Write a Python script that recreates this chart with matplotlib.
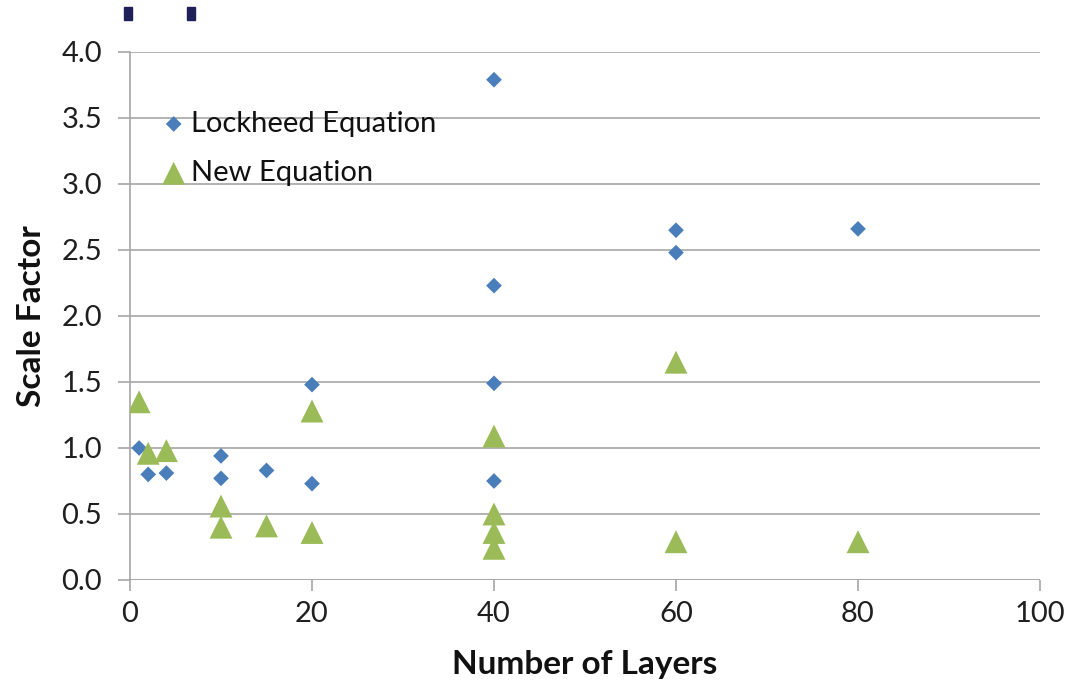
import matplotlib
matplotlib.use("Agg")
import matplotlib.pyplot as plt
from matplotlib.patches import Rectangle

plt.rcParams['font.family'] = ['Lato', 'DejaVu Sans']

# Data
lockheed_x = [1, 2, 4, 10, 10, 15, 20, 20, 40, 40, 40, 40, 60, 60, 80]
lockheed_y = [1.0, 0.80, 0.81, 0.94, 0.77, 0.83, 1.48, 0.73, 3.79, 2.23, 1.49, 0.75, 2.65, 2.48, 2.66]

new_x = [1, 2, 4, 10, 10, 15, 20, 20, 40, 40, 40, 40, 60, 60, 80]
new_y = [1.35, 0.96, 0.98, 0.56, 0.40, 0.41, 1.28, 0.36, 1.09, 0.50, 0.36, 0.24, 1.65, 0.29, 0.29]

x_ticks = [0, 20, 40, 60, 80, 100]
y_ticks = [0.0, 0.5, 1.0, 1.5, 2.0, 2.5, 3.0, 3.5, 4.0]

blue = '#4A7EBB'
green = '#9BBB59'
grid_c = '#A6A6A6'

fig = plt.figure(figsize=(10.87, 6.84), dpi=100)
ax = fig.add_axes([130/1087, 1-580/684, (1040-130)/1087, (580-52)/684])

ax.scatter(lockheed_x, lockheed_y, marker='D', s=8.0**2, color=blue, edgecolors='none',
           label='Lockheed Equation', zorder=3)
ax.scatter(new_x, new_y, marker='^', s=16.5**2, color=green, edgecolors='none',
           label='New Equation', zorder=3)

ax.set_xlim(0, 100)
ax.set_ylim(0, 4.0)
ax.set_xticks(x_ticks)
ax.set_yticks(y_ticks)
ax.set_xticklabels([str(v) for v in x_ticks])
ax.set_yticklabels([f"{v:.1f}" for v in y_ticks])

ax.grid(axis='y', color=grid_c, linewidth=1.2, zorder=0)
ax.set_axisbelow(True)
for s in ['top', 'right', 'bottom']:
    ax.spines[s].set_visible(False)
ax.spines['left'].set_color(grid_c)
ax.spines['left'].set_linewidth(1.2)
ax.axhline(0, color=grid_c, linewidth=1.2, zorder=1)

ax.tick_params(axis='y', direction='out', length=9, width=1.2, color=grid_c,
               labelsize=21, pad=11, labelcolor='#1f1f1f')
ax.tick_params(axis='x', direction='out', length=8, width=1.2, color=grid_c,
               labelsize=21, pad=7, labelcolor='#1f1f1f')

ax.set_xlabel('Number of Layers', fontsize=24, fontweight='bold', labelpad=17, color='#111111')
ax.set_ylabel('Scale Factor', fontsize=24, fontweight='bold', labelpad=11, color='#111111')

leg = ax.legend(loc='upper left', bbox_to_anchor=(0.032, 0.889), frameon=False,
                fontsize=21, handletextpad=0.1, labelspacing=0.8, borderaxespad=0,
                borderpad=0, handlelength=1.0, markerscale=1.0)
for t in leg.get_texts():
    t.set_color('#111111')

# Dark marks at top left of the picture
for x0 in [124, 187]:
    fig.patches.append(Rectangle((x0/1087, 1-20/684), 8/1087, 13/684,
                                 transform=fig.transFigure, color='#1F1F5A'))

fig.savefig('out.png', dpi=100)
